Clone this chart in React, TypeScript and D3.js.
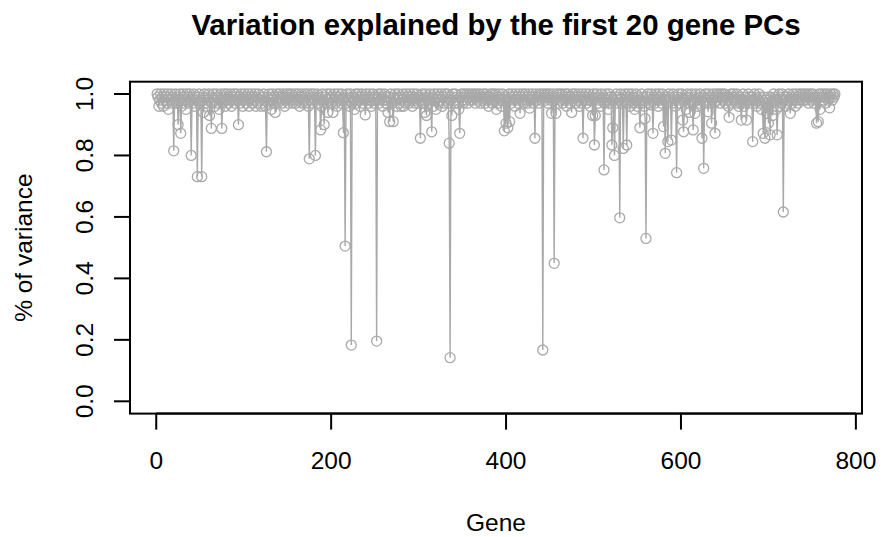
import React from "react";
import * as d3 from "d3";

// Share of each gene's variance captured by the first 20 gene PCs (gene 1..776)
const varianceExplained: number[] = [
  1.00, 0.99, 0.96, 0.98, 1.00, 0.97, 0.99, 0.96, 1.00, 0.98, 0.99, 0.97, 1.00, 0.95, 0.99, 0.98, 1.00, 0.97, 0.99, 0.815,
  0.98, 1.00, 0.97, 0.99, 0.90, 0.98, 1.00, 0.872, 0.96, 0.99, 1.00, 0.97, 0.98, 0.95, 1.00, 0.99, 0.97, 1.00, 0.98, 0.80,
  0.99, 0.97, 1.00, 0.96, 0.99, 0.98, 0.731, 0.99, 1.00, 0.97, 0.98, 0.731, 0.99, 0.94, 1.00, 0.97, 0.99, 0.96, 0.98, 1.00,
  0.93, 0.99, 0.888, 0.97, 1.00, 0.98, 0.96, 0.99, 1.00, 0.97, 0.99, 0.95, 0.98, 1.00, 0.888, 0.97, 0.99, 1.00, 0.96, 0.98,
  1.00, 0.99, 0.97, 0.98, 1.00, 0.96, 0.99, 0.98, 1.00, 0.97, 0.99, 1.00, 0.98, 0.90, 0.99, 0.97, 1.00, 0.98, 0.96, 0.99,
  1.00, 0.98, 0.97, 0.99, 1.00, 0.96, 0.98, 0.99, 1.00, 0.97, 0.99, 0.98, 1.00, 0.96, 0.99, 0.97, 1.00, 0.98, 0.99, 0.96,
  0.97, 0.99, 1.00, 0.98, 0.96, 0.812, 0.99, 0.97, 1.00, 0.98, 0.99, 0.95, 1.00, 0.97, 0.99, 0.94, 0.98, 1.00, 0.97, 0.99,
  1.00, 0.98, 0.99, 0.97, 1.00, 0.99, 0.96, 0.98, 1.00, 0.99, 0.97, 1.00, 0.98, 0.99, 1.00, 0.97, 0.99, 0.98, 1.00, 0.97,
  0.99, 1.00, 0.98, 0.96, 0.99, 1.00, 0.97, 0.99, 0.98, 1.00, 0.97, 0.99, 1.00, 0.96, 0.789, 0.98, 1.00, 0.99, 0.97, 1.00,
  0.98, 0.80, 0.99, 1.00, 0.97, 0.99, 0.98, 0.883, 0.96, 1.00, 0.98, 0.90, 0.99, 0.97, 1.00, 0.94, 0.98, 0.99, 1.00, 0.97,
  0.99, 0.94, 0.98, 1.00, 0.97, 0.99, 0.96, 1.00, 0.98, 0.99, 0.97, 1.00, 0.98, 0.874, 0.99, 0.505, 0.97, 1.00, 0.98, 0.99,
  0.96, 1.00, 0.183, 0.97, 0.99, 0.98, 0.95, 1.00, 0.97, 0.99, 1.00, 0.98, 0.96, 0.99, 1.00, 0.97, 0.98, 0.99, 0.932, 1.00,
  0.98, 0.99, 0.97, 1.00, 0.98, 0.96, 0.99, 1.00, 0.97, 0.99, 0.98, 0.196, 0.99, 1.00, 0.97, 0.98, 1.00, 0.99, 0.96, 0.98,
  1.00, 0.99, 0.97, 0.98, 0.94, 0.99, 0.91, 1.00, 0.98, 0.97, 0.91, 0.99, 1.00, 0.98, 0.96, 0.99, 1.00, 0.97, 0.99, 0.96,
  0.98, 1.00, 0.96, 0.99, 0.97, 1.00, 0.98, 0.99, 0.97, 1.00, 0.99, 0.98, 0.96, 1.00, 0.99, 0.97, 0.98, 1.00, 0.99, 0.97,
  0.99, 0.856, 0.98, 1.00, 0.97, 0.99, 0.94, 1.00, 0.93, 0.98, 0.99, 0.97, 1.00, 0.98, 0.877, 0.99, 0.96, 1.00, 0.98, 0.95,
  0.99, 1.00, 0.97, 0.99, 0.98, 1.00, 0.96, 0.99, 0.97, 1.00, 0.98, 0.99, 1.00, 0.97, 0.84, 0.142, 0.98, 0.93, 1.00, 0.99,
  0.97, 1.00, 0.98, 0.99, 0.97, 0.95, 0.872, 0.99, 1.00, 0.98, 0.97, 1.00, 0.99, 0.98, 1.00, 0.97, 0.99, 1.00, 0.98, 0.99,
  1.00, 0.98, 0.99, 1.00, 0.97, 0.99, 1.00, 0.98, 0.99, 1.00, 0.97, 0.99, 0.98, 1.00, 0.99, 0.97, 1.00, 0.98, 0.99, 0.96,
  0.99, 1.00, 0.98, 0.97, 1.00, 0.99, 0.98, 1.00, 0.95, 0.99, 0.97, 1.00, 0.98, 0.99, 0.96, 1.00, 0.98, 0.88, 0.99, 0.905,
  0.98, 0.89, 1.00, 0.91, 0.99, 0.97, 1.00, 0.98, 0.99, 0.96, 1.00, 0.98, 0.99, 0.97, 1.00, 0.937, 0.99, 0.98, 1.00, 0.97,
  0.99, 1.00, 0.98, 0.97, 0.99, 1.00, 0.954, 0.98, 0.99, 1.00, 0.97, 0.99, 0.856, 1.00, 0.98, 0.99, 0.97, 1.00, 0.99, 0.98,
  1.00, 0.167, 0.99, 1.00, 0.98, 0.99, 1.00, 0.97, 0.99, 1.00, 0.98, 0.937, 0.99, 1.00, 0.449, 0.98, 0.937, 1.00, 0.99, 0.97,
  1.00, 0.98, 0.99, 1.00, 0.97, 0.99, 0.98, 1.00, 0.96, 0.99, 1.00, 0.98, 0.97, 0.99, 0.94, 1.00, 0.98, 0.99, 1.00, 0.97,
  0.99, 0.98, 1.00, 0.96, 0.99, 0.97, 1.00, 0.856, 0.98, 0.99, 1.00, 0.97, 0.98, 0.99, 1.00, 0.96, 0.98, 0.99, 0.93, 1.00,
  0.834, 0.93, 0.99, 1.00, 0.97, 0.98, 0.99, 0.96, 1.00, 0.98, 0.99, 0.753, 0.97, 1.00, 0.98, 0.99, 0.95, 1.00, 0.97, 0.99,
  0.834, 0.89, 0.98, 0.80, 0.99, 1.00, 0.97, 0.99, 0.98, 0.597, 1.00, 0.97, 0.99, 0.823, 0.98, 1.00, 0.99, 0.834, 0.97, 1.00,
  0.99, 0.96, 0.98, 1.00, 0.97, 0.99, 0.95, 0.98, 1.00, 0.96, 0.99, 0.97, 0.89, 0.98, 1.00, 0.97, 0.99, 0.96, 0.92, 0.53,
  0.99, 1.00, 0.97, 0.99, 0.965, 1.00, 0.98, 0.872, 0.99, 0.97, 1.00, 0.98, 0.99, 0.96, 1.00, 0.98, 0.99, 0.97, 1.00, 0.894,
  0.98, 0.807, 0.99, 0.97, 0.845, 1.00, 0.98, 0.99, 0.85, 0.97, 1.00, 0.98, 0.99, 0.96, 0.744, 0.99, 1.00, 0.97, 0.98, 0.99,
  1.00, 0.915, 0.877, 0.98, 0.99, 0.95, 1.00, 0.97, 0.99, 0.94, 0.98, 1.00, 0.97, 0.883, 0.99, 0.937, 1.00, 0.98, 0.96, 0.99,
  0.97, 1.00, 0.98, 0.856, 0.99, 0.758, 0.97, 1.00, 0.98, 0.99, 0.942, 1.00, 0.97, 0.99, 0.905, 0.98, 1.00, 0.97, 0.872, 0.99,
  1.00, 0.98, 0.99, 1.00, 0.97, 0.99, 1.00, 0.98, 0.99, 1.00, 0.97, 0.99, 0.98, 0.96, 0.924, 0.99, 1.00, 0.97, 0.99, 1.00,
  0.98, 0.99, 0.97, 1.00, 0.98, 0.96, 0.99, 0.97, 0.915, 0.98, 1.00, 0.96, 0.99, 0.97, 0.915, 0.98, 1.00, 0.99, 0.97, 0.98,
  0.99, 0.845, 0.98, 1.00, 0.97, 0.99, 0.96, 0.98, 1.00, 0.97, 0.99, 0.95, 0.98, 0.872, 0.99, 0.856, 0.98, 0.937, 0.99, 0.905,
  0.98, 0.867, 0.99, 0.97, 0.93, 1.00, 0.98, 0.99, 0.95, 0.867, 0.98, 1.00, 0.96, 0.99, 0.97, 1.00, 0.616, 0.98, 0.99, 0.96,
  0.99, 0.97, 1.00, 0.98, 0.937, 0.99, 0.97, 1.00, 0.98, 0.99, 0.96, 1.00, 0.98, 0.97, 0.99, 1.00, 0.98, 0.99, 1.00, 0.98,
  0.99, 1.00, 0.98, 0.99, 1.00, 0.97, 0.99, 1.00, 0.98, 0.99, 1.00, 0.97, 0.99, 0.98, 0.905, 0.99, 0.91, 1.00, 0.95, 0.99,
  1.00, 0.98, 0.99, 1.00, 0.97, 0.99, 1.00, 0.98, 0.99, 0.955, 1.00, 0.99, 0.98, 1.00, 0.99, 1.00,
];

const xTicks: number[] = [0, 200, 400, 600, 800];
const yTicks: number[] = [0, 0.2, 0.4, 0.6, 0.8, 1.0];

const titleText = "Variation explained by the first 20 gene PCs";
const xLabel = "Gene";
const yLabel = "% of variance";

const W = 885;
const H = 537;
const frame = { left: 130, right: 862, top: 81.7, bottom: 413.6 };
const markColor = "#a9a9a9";
const font = "'Liberation Sans', Arial, Helvetica, sans-serif";
const axisSize = 24.5;
const tickLen = 16;

export default function App() {
  const n = varianceExplained.length;
  const pad = 0.04 * (n - 1);
  const x = d3.scaleLinear().domain([1 - pad, n + pad]).range([frame.left, frame.right]);
  const y = d3.scaleLinear().domain([-0.04, 1.04]).range([frame.bottom, frame.top]);

  const path = d3
    .line<number>()
    .x((_, i) => x(i + 1))
    .y((d) => y(d))(varianceExplained) as string;

  const cx = (frame.left + frame.right) / 2;
  const cy = (frame.top + frame.bottom) / 2;

  return (
    <svg
      width={W}
      height={H}
      viewBox={`0 0 ${W} ${H}`}
      style={{ position: "absolute", left: 0, top: 0, display: "block", background: "#fff" }}
      fontFamily={font}
    >
      <rect x={0} y={0} width={W} height={H} fill="#fff" />

      {/* series: connecting line and open circles */}
      <path d={path} fill="none" stroke={markColor} strokeWidth={1.4} />
      {varianceExplained.map((v, i) => (
        <circle key={i} cx={x(i + 1)} cy={y(v)} r={5} fill="none" stroke={markColor} strokeWidth={1.3} />
      ))}

      {/* plot frame */}
      <rect
        x={frame.left}
        y={frame.top}
        width={frame.right - frame.left}
        height={frame.bottom - frame.top}
        fill="none"
        stroke="#000"
        strokeWidth={2}
      />

      {/* x axis */}
      <line x1={x(xTicks[0])} x2={x(xTicks[xTicks.length - 1])} y1={frame.bottom} y2={frame.bottom} stroke="#000" strokeWidth={2} />
      {xTicks.map((t) => (
        <g key={t}>
          <line x1={x(t)} x2={x(t)} y1={frame.bottom} y2={frame.bottom + tickLen} stroke="#000" strokeWidth={2} />
          <text x={x(t)} y={469.3} textAnchor="middle" fontSize={axisSize} fill="#000">
            {t}
          </text>
        </g>
      ))}

      {/* y axis */}
      {yTicks.map((t) => (
        <g key={t}>
          <line x1={frame.left - tickLen} x2={frame.left} y1={y(t)} y2={y(t)} stroke="#000" strokeWidth={2} />
          <text
            transform={`translate(93.3,${y(t)}) rotate(-90)`}
            textAnchor="middle"
            fontSize={axisSize}
            fill="#000"
          >
            {t.toFixed(1)}
          </text>
        </g>
      ))}

      {/* titles */}
      <text x={cx} y={35} textAnchor="middle" fontSize={29.4} fontWeight="bold" fill="#000">
        {titleText}
      </text>
      <text x={cx} y={531} textAnchor="middle" fontSize={axisSize} fill="#000">
        {xLabel}
      </text>
      <text transform={`translate(32,${cy}) rotate(-90)`} textAnchor="middle" fontSize={axisSize} fill="#000">
        {yLabel}
      </text>
    </svg>
  );
}
